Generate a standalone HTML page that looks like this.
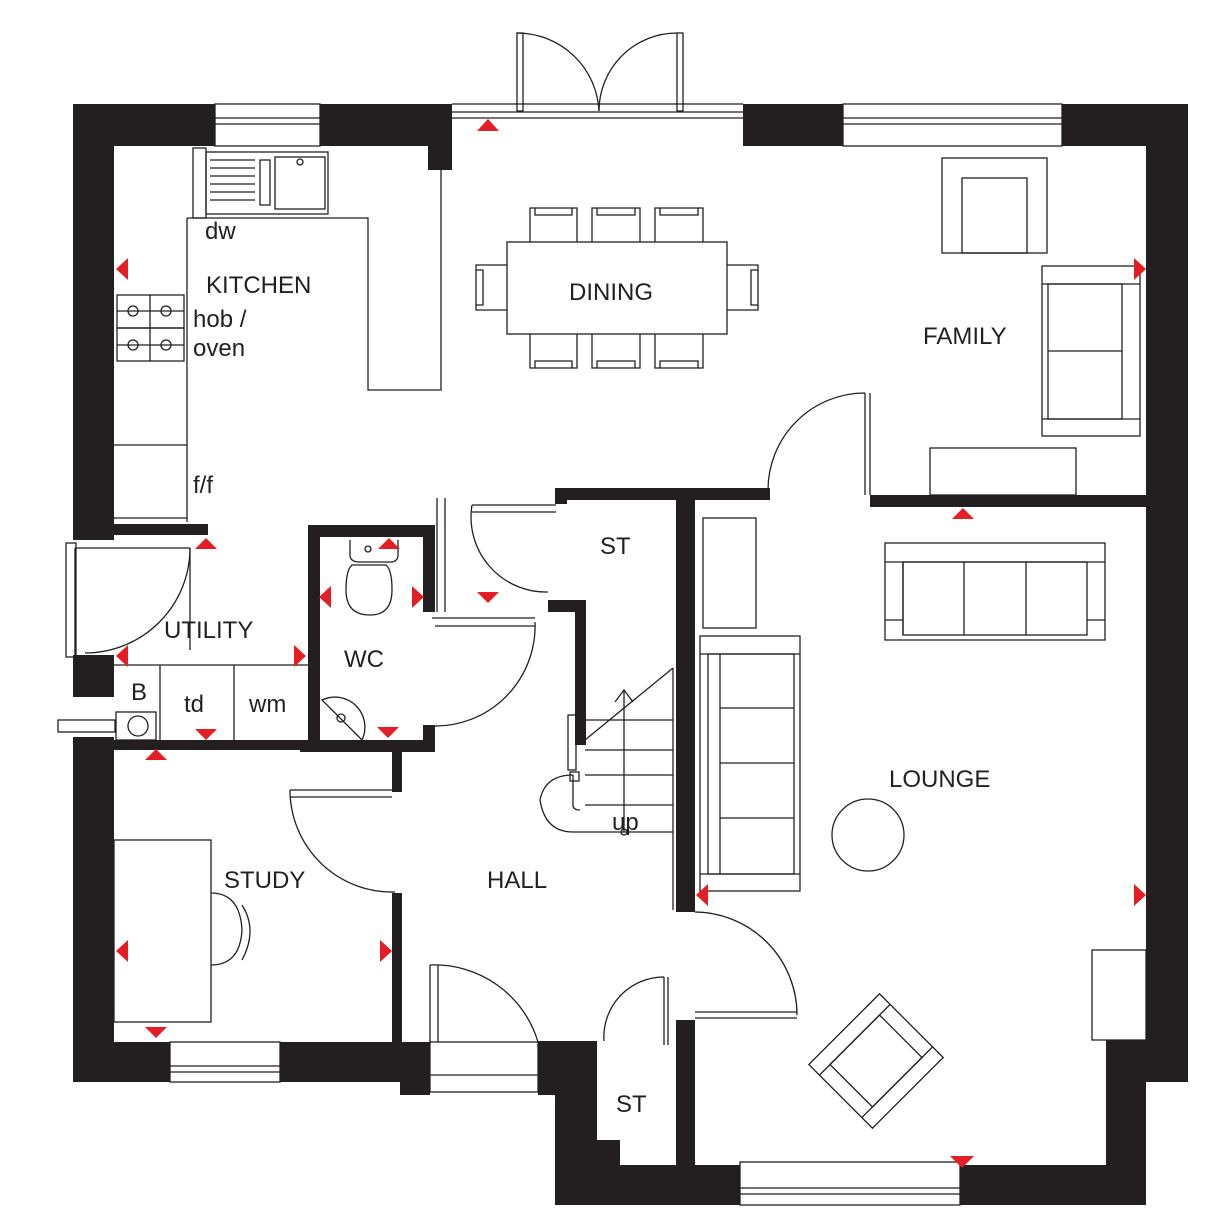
<!DOCTYPE html>
<html><head><meta charset="utf-8"><style>
html,body{margin:0;padding:0;background:#fff}
svg{display:block}
text{font-family:"Liberation Sans",sans-serif;font-size:24px;fill:#231f20}
</style></head><body>
<svg width="1208" height="1229" viewBox="0 0 1208 1229" xmlns="http://www.w3.org/2000/svg">
<g fill="#231f20">
<!-- outer walls -->
<rect x="73" y="104" width="41" height="436"/>
<rect x="73" y="655" width="41" height="42"/>
<rect x="73" y="737" width="41" height="345"/>
<rect x="73" y="104" width="142" height="42"/>
<rect x="320" y="104" width="132" height="42"/>
<rect x="428" y="104" width="24" height="66"/>
<rect x="743" y="104" width="100" height="42"/>
<rect x="1062" y="104" width="126" height="42"/>
<rect x="1146" y="104" width="42" height="978"/>
<rect x="1106" y="1040" width="82" height="42"/>
<rect x="1106" y="1040" width="40" height="165"/>
<rect x="960" y="1165" width="186" height="40"/>
<rect x="73" y="1042" width="97" height="40"/>
<rect x="280" y="1042" width="150" height="40"/>
<rect x="400" y="1042" width="30" height="53"/>
<rect x="538" y="1041" width="59" height="54"/>
<rect x="555" y="1041" width="42" height="164"/>
<rect x="555" y="1140" width="65" height="65"/>
<rect x="555" y="1165" width="185" height="40"/>
<rect x="676" y="1020" width="19" height="185"/>
<!-- interior walls -->
<rect x="114" y="524" width="94" height="11"/>
<rect x="300" y="740" width="135" height="12"/>
<rect x="114" y="740" width="190" height="10"/>
<rect x="308" y="525" width="12" height="227"/>
<rect x="308" y="525" width="127" height="12"/>
<rect x="423" y="525" width="12" height="87"/>
<rect x="423" y="725" width="12" height="27"/>
<rect x="392" y="752" width="10" height="40"/>
<rect x="392" y="893" width="10" height="149"/>
<rect x="555" y="488" width="185" height="12"/>
<rect x="555" y="488" width="12" height="16"/>
<rect x="548" y="600" width="38" height="12"/>
<rect x="575" y="600" width="11" height="145"/>
<rect x="676" y="488" width="19" height="424"/>
<rect x="870" y="495" width="276" height="12"/>
<rect x="740" y="488" width="30" height="12"/>
</g>
<g fill="none" stroke="#231f20" stroke-width="1.3">
<!-- windows -->
<rect x="215" y="104" width="105" height="42"/><line x1="215" y1="118" x2="320" y2="118"/><line x1="215" y1="124" x2="320" y2="124"/>
<rect x="843" y="104" width="219" height="42"/><line x1="843" y1="118" x2="1062" y2="118"/><line x1="843" y1="124" x2="1062" y2="124"/>
<rect x="170" y="1042" width="110" height="40"/><line x1="170" y1="1066" x2="280" y2="1066"/><line x1="170" y1="1072" x2="280" y2="1072"/>
<rect x="740" y="1162" width="220" height="43"/><line x1="740" y1="1188" x2="960" y2="1188"/><line x1="740" y1="1194" x2="960" y2="1194"/>
<rect x="430" y="1042" width="108" height="50"/><line x1="430" y1="1075" x2="538" y2="1075"/>
<line x1="452" y1="104" x2="743" y2="104"/><line x1="452" y1="112" x2="743" y2="112"/><line x1="452" y1="118" x2="743" y2="118"/>
<!-- french doors -->
<rect x="517" y="33" width="6" height="78"/><path d="M517 33 A82 82 0 0 1 599 111"/>
<rect x="677" y="33" width="6" height="78"/><path d="M677 33 A78 78 0 0 0 599 111"/>
<!-- kitchen -->
<rect x="193" y="148" width="13" height="70"/>
<rect x="206" y="152" width="122" height="62"/>
<rect x="275" y="157" width="50" height="52"/><circle cx="300" cy="162" r="3"/>
<rect x="260" y="160" width="10" height="45"/>
<path d="M210 160h45M210 168h45M210 176h45M210 184h45M210 192h45M210 200h45"/>
<path d="M187 218 H368 V390 H441 V170"/>
<line x1="187" y1="218" x2="187" y2="522"/>
<line x1="114" y1="445" x2="187" y2="445"/>
<line x1="114" y1="518" x2="187" y2="518"/>
<rect x="117" y="295" width="67" height="33"/><rect x="117" y="328" width="67" height="33"/>
<circle cx="133" cy="311" r="5"/><circle cx="166" cy="311" r="5"/><circle cx="133" cy="345" r="5"/><circle cx="166" cy="345" r="5"/>
<line x1="117" y1="311" x2="184" y2="311"/><line x1="117" y1="345" x2="184" y2="345"/>
<line x1="150" y1="295" x2="150" y2="361"/>
<!-- dining -->
<rect x="507" y="242" width="220" height="92"/>
<path d="M530 242 V208 H577 V242 M535 208 V215 H572 V208"/>
<path d="M592 242 V208 H640 V242 M597 208 V215 H635 V208"/>
<path d="M655 242 V208 H703 V242 M660 208 V215 H698 V208"/>
<path d="M530 334 V368 H577 V334 M535 368 V361 H572 V368"/>
<path d="M592 334 V368 H640 V334 M597 368 V361 H635 V368"/>
<path d="M655 334 V368 H703 V334 M660 368 V361 H698 V368"/>
<path d="M507 265 H476 V310 H507 M476 270 H483 V305 H476"/>
<path d="M727 265 H758 V310 H727 M758 270 H751 V305 H758"/>
<!-- family -->
<rect x="942" y="158" width="105" height="95"/><rect x="962" y="178" width="65" height="75"/>
<rect x="1042" y="266" width="98" height="170"/><rect x="1048" y="284" width="74" height="135"/>
<line x1="1048" y1="351" x2="1122" y2="351"/><line x1="1042" y1="284" x2="1140" y2="284"/><line x1="1042" y1="419" x2="1140" y2="419"/>
<rect x="930" y="448" width="146" height="47"/>
<path d="M865 393 V495 M865 393 A97 97 0 0 0 768 490"/>
<line x1="870" y1="393" x2="870" y2="495"/>
<!-- utility -->
<path d="M190 548 V650 M190 548 H75 M75 548 V655"/>
<rect x="66" y="543" width="10" height="114"/>
<path d="M190 548 A105 105 0 0 1 85 653"/>
<line x1="114" y1="665" x2="308" y2="665"/>
<line x1="160" y1="665" x2="160" y2="740"/><line x1="234" y1="665" x2="234" y2="740"/>
<rect x="116" y="712" width="40" height="28"/><circle cx="138" cy="726" r="10"/>
<rect x="58" y="720" width="57" height="12"/>
<!-- WC -->
<path d="M350 540 V555 Q350 562 360 562 H390 Q398 562 398 555 V540"/>
<path d="M352 565 Q346 570 346 590 Q346 615 370 615 Q392 615 392 590 Q392 570 386 565 Z"/>
<circle cx="368" cy="549" r="3"/>
<path d="M322 700 A30 30 0 0 1 362 740 Z"/><circle cx="341" cy="718" r="4"/>
<!-- WC / hall doors -->
<path d="M432 618 H535 M435 626 H535"/><path d="M535 622 A100 100 0 0 1 432 726"/>
<path d="M437 498 V612 M445 498 V612"/>
<path d="M472 505 H556 M472 512 H556"/><path d="M472 505 A75 75 0 0 0 548 592"/>
<!-- stairs -->
<path d="M585 740 L673 668 M585 720 H673 M585 750 H673 M585 775 H673 M585 805 H673 M673 668 V910"/>
<path d="M573 775 Q545 775 540 800 Q545 832 573 832 H673 M573 775 V805 Q573 810 580 810"/>
<rect x="568" y="715" width="8" height="55"/><rect x="570" y="772" width="9" height="9"/>
<line x1="624" y1="690" x2="624" y2="832"/><path d="M615 702 L624 690 L633 702"/><circle cx="624" cy="832" r="3"/>
<!-- study -->
<rect x="114" y="840" width="97" height="182"/>
<path d="M211 893 Q240 893 242 930 Q240 965 211 965"/><path d="M242 905 Q258 930 242 960"/>
<path d="M290 790 H392 M290 797 H392"/><path d="M290 790 A102 102 0 0 0 395 892"/>
<!-- hall door bottom -->
<path d="M430 965 V1042 M438 965 V1042"/><path d="M430 965 A108 108 0 0 1 538 1042"/>
<path d="M604 1041 A60 60 0 0 1 664 977 M664 977 V1045 M668 977 V1045"/>
<path d="M695 1012 H797 M695 1018 H797"/><path d="M797 1015 A103 103 0 0 0 695 912"/>
<!-- lounge -->
<rect x="703" y="518" width="53" height="110"/>
<rect x="700" y="636" width="100" height="255"/><rect x="708" y="654" width="86" height="220"/>
<path d="M720 654 V874 M720 708 H794 M720 763 H794 M720 818 H794 M700 654 H800 M700 874 H800"/>
<rect x="885" y="543" width="220" height="97"/><rect x="903" y="562" width="184" height="73"/>
<path d="M903 562 V635 M964 562 V635 M1026 562 V635 M885 562 H1105 M885 620 H903 M1087 620 H1105"/>
<circle cx="868" cy="835" r="36"/>
<rect x="1092" y="950" width="54" height="90"/>
<g transform="translate(876,1061) rotate(-45)"><rect x="-50" y="-45" width="100" height="90"/><rect x="-35" y="-30" width="70" height="60"/><line x1="-50" y1="-30" x2="50" y2="-30"/><line x1="-50" y1="30" x2="50" y2="30"/></g>
</g>
<!-- red markers -->
<g fill="#e31e24">
<polygon points="477,131 499,131 488,119"/>
<polygon points="952,519 974,519 963,508"/>
<polygon points="195,549 217,549 206,538"/>
<polygon points="378,549 400,549 389,538"/>
<polygon points="145,760 167,760 156,749"/>
<polygon points="128,258 128,280 116,269"/>
<polygon points="1134,258 1134,280 1146,269"/>
<polygon points="128,645 128,667 116,656"/>
<polygon points="294,645 294,667 306,656"/>
<polygon points="331,586 331,608 319,597"/>
<polygon points="412,586 412,608 424,597"/>
<polygon points="477,592 499,592 488,603"/>
<polygon points="195,729 217,729 206,740"/>
<polygon points="377,727 399,727 388,738"/>
<polygon points="128,940 128,962 116,951"/>
<polygon points="380,940 380,962 392,951"/>
<polygon points="145,1027 167,1027 156,1038"/>
<polygon points="708,884 708,906 696,895"/>
<polygon points="1134,884 1134,906 1146,895"/>
<polygon points="950,1156 974,1156 962,1168"/>
</g>
<text x="205" y="239">dw</text>
<text x="206" y="293">KITCHEN</text>
<text x="193" y="327">hob /</text>
<text x="193" y="356">oven</text>
<text x="193" y="493">f/f</text>
<text x="569" y="300">DINING</text>
<text x="923" y="344">FAMILY</text>
<text x="600" y="554">ST</text>
<text x="164" y="638">UTILITY</text>
<text x="344" y="667">WC</text>
<text x="131" y="700">B</text>
<text x="184" y="712">td</text>
<text x="249" y="712">wm</text>
<text x="889" y="787">LOUNGE</text>
<text x="612" y="830">up</text>
<text x="224" y="888">STUDY</text>
<text x="487" y="888">HALL</text>
<text x="616" y="1112">ST</text>
</svg>
</body></html>
